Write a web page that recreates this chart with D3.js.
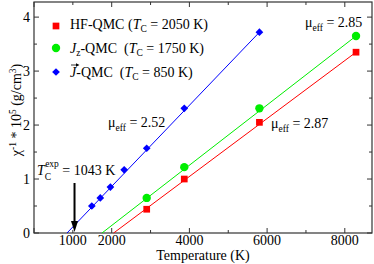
<!DOCTYPE html>
<html>
<head>
<meta charset="utf-8">
<script src="https://cdn.jsdelivr.net/npm/d3@7"></script>
<style>
  body { margin: 0; background: #fff; }
  svg, svg text { font-family: "Liberation Serif", "DejaVu Serif", serif; }
</style>
</head>
<body>
<div id="chart"></div>
<script>
// data (temperature in K, inverse susceptibility * 1e5)
const hfT = [2901, 3868, 5802, 8289];
const hfY = [0.44, 1.0, 2.05, 3.35];
const jzT = [2901, 3868, 5802, 8289];
const jzY = [0.65, 1.22, 2.31, 3.65];
const jT = [1488, 1706, 1967, 2321, 2901, 3868, 5802];
const jY = [0.5, 0.65, 0.85, 1.17, 1.57, 2.31, 3.72];

// Curie-Weiss fits: from T_C (zero) to last point
const hfFit = [[2050, 0], [8289, 3.35]];
const jzFit = [[1750, 0], [8289, 3.65]];
const jFit = [[850, 0], [5802, 3.72]];

const xTickLabels = [1000, 2000, 4000, 6000, 8000];
const yTickLabels = [0, 1, 2, 3, 4];
const tcExp = 1043;

const W = 374, H = 264;
const margin = {top: 2, right: 2, bottom: 31, left: 34};
const width = W - margin.left - margin.right,
      height = H - margin.top - margin.bottom;

const svg = d3.select("#chart").append("svg")
    .attr("width", W).attr("height", H)
    .attr("font-family", "Liberation Serif, DejaVu Serif, serif");
const g = svg.append("g")
    .attr("transform", `translate(${margin.left},${margin.top})`);

const x = d3.scaleLinear().domain([0, 8700]).range([0, width]);
const y = d3.scaleLinear().domain([0, 4.28]).range([height, 0]);

// frame
g.append("rect").attr("width", width).attr("height", height)
  .attr("fill", "none").attr("stroke", "#333").attr("stroke-width", 1.2);

// ticks (inward, on all sides)
const xMajor = d3.range(0, 8701, 2000), xMinor = d3.range(1000, 8701, 2000);
const yMajor = d3.range(0, 4.3, 1), yMinor = d3.range(0.5, 4.3, 1);
const tk = g.append("g").attr("stroke", "#333").attr("stroke-width", 1);
xMajor.forEach(v => {
  tk.append("line").attr("x1", x(v)).attr("x2", x(v)).attr("y1", height).attr("y2", height - 5);
  tk.append("line").attr("x1", x(v)).attr("x2", x(v)).attr("y1", 0).attr("y2", 5);
});
xMinor.forEach(v => {
  tk.append("line").attr("x1", x(v)).attr("x2", x(v)).attr("y1", height).attr("y2", height - 3);
  tk.append("line").attr("x1", x(v)).attr("x2", x(v)).attr("y1", 0).attr("y2", 3);
});
yMajor.forEach(v => {
  tk.append("line").attr("y1", y(v)).attr("y2", y(v)).attr("x1", 0).attr("x2", 5);
  tk.append("line").attr("y1", y(v)).attr("y2", y(v)).attr("x1", width).attr("x2", width - 5);
});
yMinor.forEach(v => {
  tk.append("line").attr("y1", y(v)).attr("y2", y(v)).attr("x1", 0).attr("x2", 3);
  tk.append("line").attr("y1", y(v)).attr("y2", y(v)).attr("x1", width).attr("x2", width - 3);
});

// tick labels
g.selectAll(".xl").data(xTickLabels).join("text")
  .attr("x", d => x(d)).attr("y", height + 11.5)
  .attr("text-anchor", "middle").style("font-size", "14px").text(d => d);
g.selectAll(".yl").data(yTickLabels).join("text")
  .attr("x", -4).attr("y", d => y(d) + 5)
  .attr("text-anchor", "end").style("font-size", "14px").text(d => d);

// axis titles
svg.append("text").attr("x", 203).attr("y", 260)
  .attr("text-anchor", "middle").style("font-size", "14px").text("Temperature (K)");

const yt = svg.append("text")
  .attr("transform", "translate(21,110) rotate(-90)")
  .attr("text-anchor", "middle").style("font-size", "14px");
yt.append("tspan").text("χ");
yt.append("tspan").attr("dy", -5).style("font-size", "9.5px").text("-1");
yt.append("tspan").attr("dy", 5).text(" * 10");
yt.append("tspan").attr("dy", -5).style("font-size", "9.5px").text("5");
yt.append("tspan").attr("dy", 5).text(" (g/cm");
yt.append("tspan").attr("dy", -5).style("font-size", "9.5px").text("3");
yt.append("tspan").attr("dy", 5).text(")");

// fit lines
const line = d3.line().x(d => x(d[0])).y(d => y(d[1]));
g.append("path").datum(hfFit).attr("d", line).attr("fill", "none").attr("stroke", "#ff0000").attr("stroke-width", 1);
g.append("path").datum(jzFit).attr("d", line).attr("fill", "none").attr("stroke", "#00ee00").attr("stroke-width", 1);
g.append("path").datum(jFit).attr("d", line).attr("fill", "none").attr("stroke", "#0000ff").attr("stroke-width", 1);

// markers
const sq = d3.symbol().type(d3.symbolSquare).size(45);
const ci = d3.symbol().type(d3.symbolCircle).size(55);
const di = d3.symbol().type(d3.symbolDiamond2).size(38);
g.selectAll(".hf").data(hfT).join("path")
  .attr("transform", (d, i) => `translate(${x(d)},${y(hfY[i])})`)
  .attr("d", sq).attr("fill", "#ff0000");
g.selectAll(".jz").data(jzT).join("path")
  .attr("transform", (d, i) => `translate(${x(d)},${y(jzY[i])})`)
  .attr("d", ci).attr("fill", "#00ee00");
g.selectAll(".jj").data(jT).join("path")
  .attr("transform", (d, i) => `translate(${x(d)},${y(jY[i])})`)
  .attr("d", di).attr("fill", "#0000ff");

// legend
const leg = svg.append("g").style("font-size", "14px");
leg.append("path").attr("transform", "translate(56,26)").attr("d", sq).attr("fill", "#ff0000");
leg.append("path").attr("transform", "translate(56,48)").attr("d", ci).attr("fill", "#00ee00");
leg.append("path").attr("transform", "translate(56,72)").attr("d", di).attr("fill", "#0000ff");

const l1 = leg.append("text").attr("x", 70).attr("y", 29);
l1.append("tspan").text("HF-QMC (");
l1.append("tspan").style("font-style", "italic").text("T");
l1.append("tspan").attr("dy", 3).style("font-size", "9.5px").text("C");
l1.append("tspan").attr("dy", -3).text(" = 2050 K)");

const l2 = leg.append("text").attr("x", 70).attr("y", 53);
l2.append("tspan").style("font-style", "italic").text("J");
l2.append("tspan").attr("dy", 3).style("font-size", "9.5px").text("z");
l2.append("tspan").attr("dy", -3).text("-QMC \u00a0(");
l2.append("tspan").style("font-style", "italic").text("T");
l2.append("tspan").attr("dy", 3).style("font-size", "9.5px").text("C");
l2.append("tspan").attr("dy", -3).text(" = 1750 K)");

const l3 = leg.append("text").attr("x", 70).attr("y", 77);
l3.append("tspan").style("font-style", "italic").text("J");
l3.append("tspan").text("-QMC \u00a0(");
l3.append("tspan").style("font-style", "italic").text("T");
l3.append("tspan").attr("dy", 3).style("font-size", "9.5px").text("C");
l3.append("tspan").attr("dy", -3).text(" = 850 K)");
// vector arrow above J
leg.append("path").attr("d", "M71,65 L77,65").attr("stroke", "#000").attr("stroke-width", 0.8);
leg.append("path").attr("d", "M79.5,65 L76,63.3 L76,66.7 Z").attr("fill", "#000");

// mu_eff annotations
function mu(px, py, val) {
  const t = svg.append("text").attr("x", px).attr("y", py).style("font-size", "14px");
  t.append("tspan").text("μ");
  t.append("tspan").attr("dy", 4).style("font-size", "9.5px").text("eff");
  t.append("tspan").attr("dy", -4).text(" = " + val);
}
mu(108, 127, "2.52");
mu(305, 27, "2.85");
mu(271, 128, "2.87");

// experimental T_C arrow
const tc = svg.append("text").attr("x", 37).attr("y", 175).style("font-size", "14px");
tc.append("tspan").style("font-style", "italic").text("T");
tc.append("tspan").attr("dy", 5).style("font-size", "9.5px").text("C");
tc.append("tspan").attr("dx", -6).attr("dy", -13).style("font-size", "9.5px").text("exp");
tc.append("tspan").attr("dy", 8).text(" = 1043 K");

const ax = margin.left + x(tcExp);
svg.append("line").attr("x1", ax).attr("x2", ax).attr("y1", 183).attr("y2", 222)
  .attr("stroke", "#000").attr("stroke-width", 2);
svg.append("path")
  .attr("d", `M${ax - 3.5},221 L${ax + 3.5},221 L${ax},${margin.top + height - 1} Z`)
  .attr("fill", "#000");
</script>
</body>
</html>
